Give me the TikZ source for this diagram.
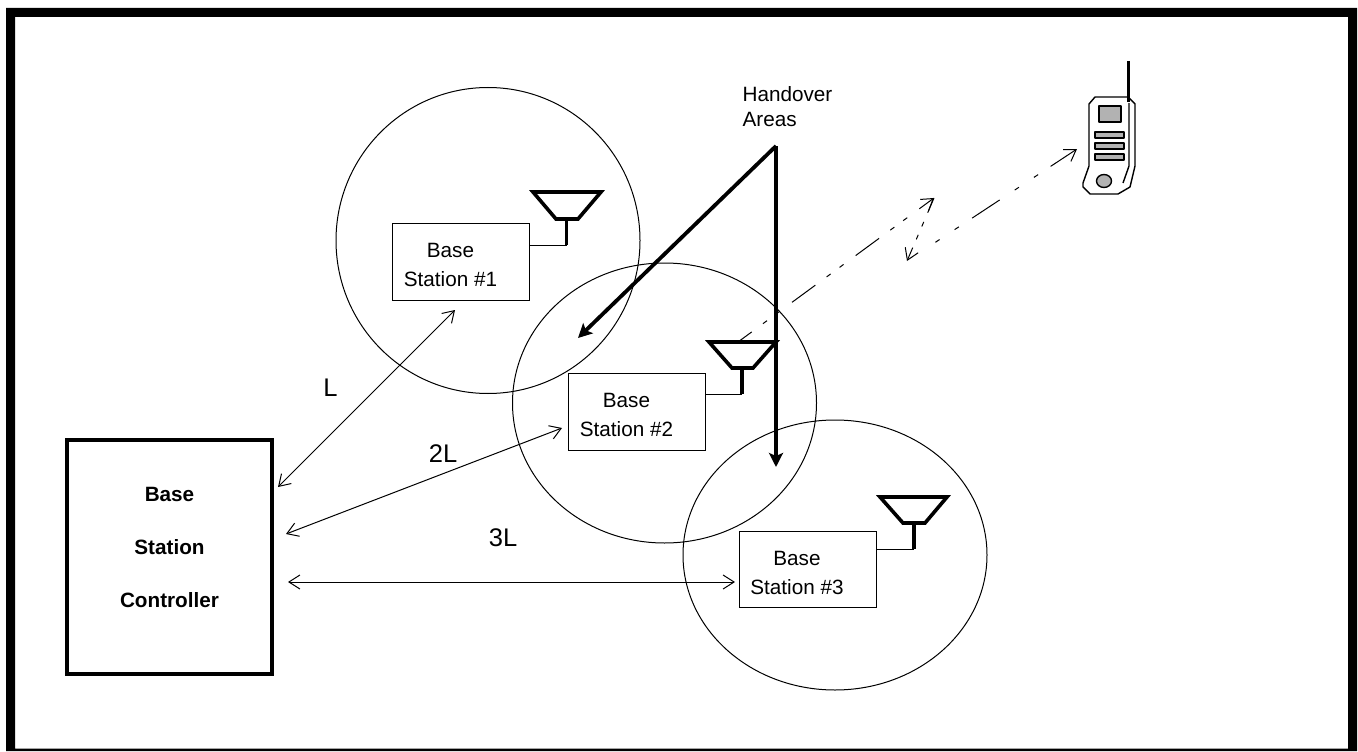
\documentclass[tikz,border=0pt]{standalone}
\usepackage{fontspec}
\setmainfont{Liberation Sans}
\usetikzlibrary{arrows.meta,shapes.geometric}
\tikzset{
  x=1pt,y=-1pt,
  cell/.style={draw,line width=1pt,ellipse,inner sep=0pt,outer sep=0pt},
  bsbox/.style={draw,line width=1pt,fill=white,inner sep=0pt,outer sep=0pt,minimum width=137pt},
  bstext/.style={inner sep=0pt,align=center,font=\fontsize{20.7}{29}\selectfont},
  barb/.tip={Straight Barb[length=11pt,width=14pt,line width=1pt]},
  link/.style={line width=1pt,{barb}-{barb}},
  heavy/.style={line width=3.8pt,-{Stealth[length=14pt,width=14pt,inset=3pt]}},
  ant/.style={line width=3.6pt,line join=miter},
  wave/.style={line width=1pt,-{barb}},
  lab/.style={font=\fontsize{25.5}{30}\selectfont,inner sep=0pt},
  phoneline/.style={line width=1.4pt,line join=round},
}
\definecolor{phonegrey}{gray}{0.70}
\begin{document}
\begin{tikzpicture}
\useasboundingbox (0,0) rectangle (1358,752);
\fill[white] (0,0) rectangle (1358,752);
% frame
\fill[black,even odd rule] (6,8) rectangle (1357,751) (15,17) rectangle (1348,748.5);
% cells
\node[cell,minimum width=304pt,minimum height=306pt] (c1) at (488,240.5) {};
\node[cell,minimum width=304pt,minimum height=280pt] (c2) at (664.5,403) {};
\node[cell,minimum width=304pt,minimum height=270pt] (c3) at (835,555) {};
% boxes
\node[bsbox,minimum height=77pt] (b1) at (461,261.5) {};
\node[bsbox,minimum height=77pt] (b2) at (637,411.5) {};
\node[bsbox,minimum height=76pt] (b3) at (808,569) {};
\node[bstext] (t1) at (450.5,264.5) {Base\\Station \#1};
\node[bstext] (t2) at (626.5,414.5) {Base\\Station \#2};
\node[bstext] (t3) at (797,573) {Base\\Station \#3};
\node[draw,line width=4pt,minimum width=205pt,minimum height=234pt,inner sep=0pt,outer sep=0pt] (bsc) at (169.5,556.5) {};
\node[inner sep=0pt,align=center,font=\bfseries\fontsize{20.7}{53}\selectfont] (bsct) at (169.5,547) {Base\\Station\\Controller};
% labels
\node[lab] (lL) at (330.5,387.5) {L};
\node[lab] (l2) at (443,453.5) {2L};
\node[lab] (l3) at (503,538) {3L};
\node[align=left,inner sep=0pt,font=\fontsize{20.7}{25}\selectfont] (hand) at (787.5,106.5) {Handover\\Areas};
% links
\coordinate (e1a) at (278,487); \coordinate (e1b) at (455,310);
\coordinate (e2a) at (286,534); \coordinate (e2b) at (562,428);
\coordinate (e3a) at (288,582); \coordinate (e3b) at (735,582);
\draw[link] (e1a) -- (e1b);
\draw[link] (e2a) -- (e2b);
\draw[link] (e3a) -- (e3b);
% heavy arrows
\coordinate (h) at (776,146);
\coordinate (h1) at (578,338);
\coordinate (h2) at (776,467);
\draw[heavy] (h) -- (h1);
\draw[heavy] (h) -- (h2);
% antennas
\coordinate (a1) at (566.5,245);
\draw[ant] (533,192) -- (601,192) -- (578,219) -- (556,219) -- cycle;
\draw[ant] (566.5,219) -- (a1);
\draw[line width=1pt] (b1.east |- a1) -- (a1);
\coordinate (a2) at (742,394);
\draw[ant] (709,342) -- (776,342) -- (753,368) -- (732,368) -- cycle;
\draw[ant] (742,368) -- (a2);
\draw[line width=1pt] (b2.east |- a2) -- (a2);
\coordinate (a3) at (914,549);
\draw[ant] (880,497) -- (947,497) -- (925,523) -- (903,523) -- cycle;
\draw[ant] (914,523) -- (a3);
\draw[line width=1pt] (b3.east |- a3) -- (a3);
% radio link
\coordinate (r0) at (738,342);
\coordinate (r1) at (934,198);
\coordinate (r2) at (907,261);
\coordinate (r3) at (1077,149);
\draw[wave,dash pattern=on 29pt off 14pt on 5pt off 11pt on 5pt off 15pt,dash phase=12pt] (r0) -- (r1);
\draw[wave,dash pattern=on 16pt off 10pt on 5pt off 9pt on 5pt off 9pt on 30pt off 1pt] (r1) -- (r2);
\draw[wave,dash pattern=on 0pt off 34pt on 5pt off 18pt on 5pt off 16pt on 33pt off 18pt on 5pt off 18pt on 5pt off 15pt on 50pt off 1pt] (r2) -- (r3);
% phone
\draw[phoneline,fill=white] (1095,97) -- (1128,97) -- (1135,104) -- (1135,166) -- (1130,187) -- (1118,194) -- (1090,194) -- (1083,187) -- (1083,183) -- (1089,166) -- (1089,104) -- cycle;
\draw[phoneline] (1129,103) -- (1129,166) -- (1123,183);
\draw[line width=3pt] (1128,61) -- (1128,102);
\draw[phoneline,fill=phonegrey] (1099,106) rectangle (1121,122);
\draw[phoneline,fill=phonegrey] (1095,132) rectangle (1124,138);
\draw[phoneline,fill=phonegrey] (1095,143) rectangle (1124,149);
\draw[phoneline,fill=phonegrey] (1095,154) rectangle (1124,160);
\draw[phoneline,fill=phonegrey] (1104,181) ellipse (7.5pt and 6.5pt);
\end{tikzpicture}
\end{document}
